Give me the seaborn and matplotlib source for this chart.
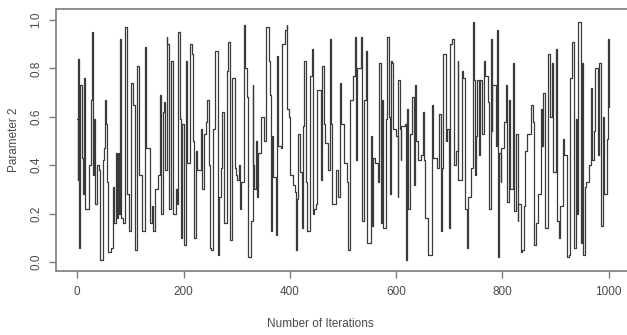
import pandas as pd
import seaborn as sns
import matplotlib.pyplot as plt

sns.set_theme(style="white")
plt.rcParams['font.family'] = ['Liberation Sans', 'DejaVu Sans']

# change points of the chain (iteration, value)
iterations = [
    0, 1, 2, 4, 6, 8, 11, 13, 15, 23, 26, 28, 30, 32, 34, 38, 41, 43, 49, 51,
    53, 55, 56, 58, 64, 68, 70, 73, 75, 77, 79, 81, 83, 87, 90, 94, 98, 102, 105, 109,
    113, 117, 121, 122, 128, 130, 136, 137, 141, 143, 147, 151, 156, 158, 162, 164, 166, 168, 169, 173,
    177, 181, 186, 188, 190, 194, 196, 198, 201, 205, 207, 213, 215, 217, 220, 224, 226, 232, 235, 239,
    243, 245, 247, 249, 252, 256, 260, 264, 267, 271, 273, 277, 282, 284, 288, 292, 296, 299, 301, 305,
    307, 309, 313, 316, 320, 322, 326, 330, 331, 333, 337, 339, 341, 345, 352, 356, 360, 363, 365, 367,
    369, 373, 375, 378, 384, 386, 390, 394, 395, 399, 401, 405, 409, 412, 414, 416, 420, 422, 424, 427,
    431, 433, 437, 441, 443, 446, 450, 452, 458, 461, 465, 467, 471, 475, 478, 480, 486, 490, 495, 497,
    501, 507, 510, 514, 518, 522, 525, 527, 533, 535, 539, 544, 546, 552, 555, 557, 561, 565, 567, 571,
    574, 576, 580, 582, 586, 588, 590, 593, 594, 599, 603, 604, 608, 609, 610, 616, 618, 620, 623, 627,
    629, 633, 636, 638, 642, 646, 650, 652, 655, 659, 667, 668, 670, 676, 680, 684, 687, 689, 693, 695,
    699, 702, 706, 708, 712, 716, 717, 723, 725, 729, 733, 736, 740, 744, 746, 748, 751, 753, 755, 757,
    761, 765, 768, 772, 774, 778, 780, 781, 787, 789, 791, 793, 797, 798, 802, 806, 808, 812, 815, 819,
    821, 825, 829, 830, 834, 836, 840, 842, 847, 853, 857, 859, 864, 866, 872, 874, 877, 881, 885, 889,
    894, 896, 900, 902, 906, 909, 913, 915, 921, 926, 928, 930, 934, 938, 940, 943, 947, 949, 951, 955,
    958, 962, 966, 968, 972, 975, 979, 981, 985, 989, 992, 996, 998, 1000,
]
param2 = [
    0.59, 0.34, 0.84, 0.06, 0.73, 0.43, 0.28, 0.76, 0.22, 0.40, 0.67, 0.95, 0.36, 0.59, 0.24, 0.40, 0.38, 0.01, 0.42, 0.47,
    0.67, 0.57, 0.33, 0.04, 0.06, 0.31, 0.16, 0.45, 0.18, 0.45, 0.20, 0.92, 0.18, 0.16, 0.97, 0.28, 0.13, 0.74, 0.65, 0.05,
    0.81, 0.36, 0.32, 0.13, 0.89, 0.47, 0.35, 0.16, 0.23, 0.13, 0.30, 0.36, 0.69, 0.20, 0.62, 0.66, 0.38, 0.93, 0.90, 0.22,
    0.83, 0.20, 0.30, 0.24, 0.95, 0.59, 0.10, 0.57, 0.07, 0.83, 0.41, 0.90, 0.86, 0.50, 0.10, 0.46, 0.38, 0.55, 0.30, 0.53,
    0.58, 0.67, 0.40, 0.06, 0.05, 0.55, 0.87, 0.03, 0.27, 0.39, 0.62, 0.16, 0.79, 0.91, 0.09, 0.76, 0.39, 0.36, 0.34, 0.40,
    0.22, 0.33, 0.98, 0.80, 0.68, 0.02, 0.17, 0.73, 0.40, 0.30, 0.50, 0.27, 0.45, 0.60, 0.50, 0.97, 0.83, 0.69, 0.13, 0.52,
    0.35, 0.11, 0.85, 0.48, 0.47, 0.90, 0.96, 0.98, 0.63, 0.60, 0.36, 0.32, 0.29, 0.05, 0.26, 0.53, 0.37, 0.14, 0.56, 0.83,
    0.33, 0.13, 0.77, 0.88, 0.20, 0.22, 0.24, 0.71, 0.34, 0.81, 0.57, 0.49, 0.38, 0.92, 0.57, 0.24, 0.38, 0.27, 0.74, 0.57,
    0.41, 0.33, 0.05, 0.67, 0.77, 0.93, 0.42, 0.80, 0.93, 0.17, 0.67, 0.87, 0.08, 0.52, 0.15, 0.43, 0.41, 0.33, 0.82, 0.16,
    0.67, 0.14, 0.59, 0.93, 0.60, 0.28, 0.83, 0.82, 0.55, 0.52, 0.27, 0.75, 0.55, 0.42, 0.56, 0.57, 0.01, 0.63, 0.22, 0.53,
    0.68, 0.32, 0.73, 0.50, 0.42, 0.44, 0.62, 0.42, 0.18, 0.03, 0.37, 0.65, 0.43, 0.39, 0.61, 0.13, 0.39, 0.86, 0.50, 0.55,
    0.14, 0.90, 0.92, 0.40, 0.46, 0.83, 0.34, 0.79, 0.76, 0.22, 0.06, 0.27, 0.39, 0.99, 0.75, 0.36, 0.52, 0.75, 0.44, 0.75,
    0.53, 0.83, 0.77, 0.66, 0.22, 0.92, 0.54, 0.73, 0.48, 0.96, 0.02, 0.45, 0.33, 0.47, 0.58, 0.73, 0.25, 0.67, 0.30, 0.82,
    0.21, 0.53, 0.17, 0.24, 0.04, 0.05, 0.23, 0.46, 0.53, 0.65, 0.58, 0.07, 0.16, 0.28, 0.63, 0.48, 0.70, 0.14, 0.86, 0.60,
    0.82, 0.37, 0.88, 0.17, 0.10, 0.23, 0.51, 0.44, 0.02, 0.03, 0.76, 0.91, 0.06, 0.59, 0.20, 0.99, 0.08, 0.82, 0.03, 0.31,
    0.33, 0.40, 0.72, 0.42, 0.54, 0.80, 0.44, 0.82, 0.15, 0.60, 0.28, 0.51, 0.92, 0.64,
]
x_ticks = [0, 200, 400, 600, 800, 1000]
y_ticks = [0.0, 0.2, 0.4, 0.6, 0.8, 1.0]

trace = pd.DataFrame({'iteration': iterations, 'value': param2})

fig = plt.figure(figsize=(6.27, 3.35), dpi=100)
ax = fig.add_axes([56 / 627, 1 - 271 / 335, 574 / 627, 262 / 335])

sns.lineplot(data=trace, x='iteration', y='value', ax=ax, estimator=None,
             drawstyle='steps-post', color='#3a3a3a', linewidth=0.9)

ax.set_xlim(-40, 1040)
ax.set_ylim(-0.037, 1.045)
ax.set_xticks(x_ticks)
ax.set_xticklabels([str(t) for t in x_ticks])
ax.set_yticks(y_ticks)
ax.set_yticklabels([f'{t:.1f}' for t in y_ticks])

for side in ax.spines.values():
    side.set_color('#7a7a7a')
    side.set_linewidth(1.2)

ax.tick_params(axis='both', direction='out', length=5, width=1, color='#7a7a7a',
               labelsize=8.5, labelcolor='#4a4a4a', bottom=True, left=True)
ax.tick_params(axis='x', pad=6)
ax.tick_params(axis='y', labelrotation=90, pad=5)
plt.setp(ax.get_yticklabels(), va='center')

ax.set_xlabel('Number of Iterations', fontsize=8.5, color='#4a4a4a')
ax.set_ylabel('Parameter 2', fontsize=8.5, color='#4a4a4a')
ax.xaxis.set_label_coords(0.46, -0.178)
ax.yaxis.set_label_coords(-0.062, 0.5)

fig.savefig('out.png', dpi=100)
